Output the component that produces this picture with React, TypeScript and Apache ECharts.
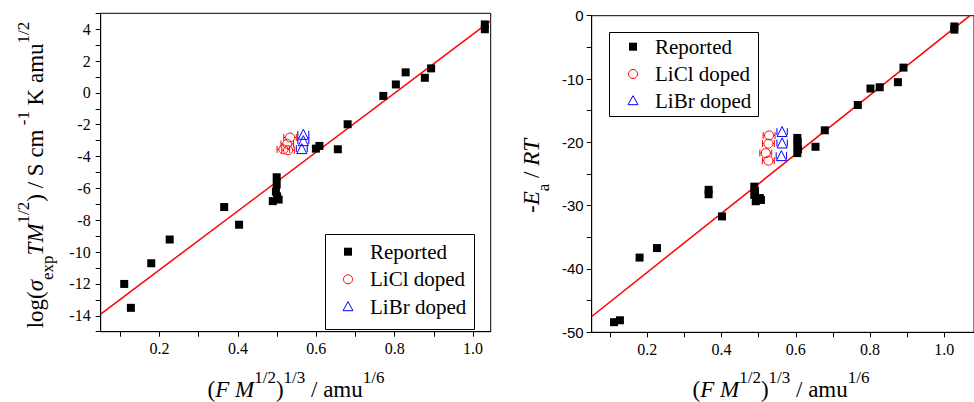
import React, { useEffect, useRef } from 'react';
import * as echarts from 'echarts';

// ---------- shared axis ticks ----------
const xTickValues = [0.1, 0.2, 0.3, 0.4, 0.5, 0.6, 0.7, 0.8, 0.9, 1.0];
const xLabelValues = [0.2, 0.4, 0.6, 0.8, 1.0];

// ---------- left chart: log(sigma T M^1/2) ----------
const leftRepX = [0.110, 0.127, 0.179, 0.226, 0.365, 0.403, 0.489, 0.499, 0.499, 0.497, 0.500, 0.504, 0.599, 0.608, 0.655, 0.680, 0.771, 0.803, 0.828, 0.877, 0.893, 1.030, 1.030];
const leftRepY = [-12.0, -13.5, -10.7, -9.21, -7.17, -8.28, -6.8, -5.3, -5.75, -6.2, -6.5, -6.7, -3.5, -3.33, -3.54, -1.97, -0.19, 0.53, 1.29, 0.95, 1.54, 4.0, 4.3];
const leftLiClX = [0.533, 0.526, 0.516, 0.528];
const leftLiClY = [-2.8, -3.2, -3.55, -3.6];
const leftLiClErr = [0.016, 0.016, 0.016, 0.016];
const leftLiBrX = [0.567, 0.567, 0.563];
const leftLiBrY = [-2.6, -3.0, -3.5];
const leftLiBrErr = [0.014, 0.014, 0.014];
const leftFitX = [0.05, 1.045];
const leftFitY = [-13.89, 4.52];

// ---------- right chart: -Ea/RT ----------
const rightRepX = [0.110, 0.126, 0.179, 0.226, 0.365, 0.365, 0.401, 0.488, 0.490, 0.488, 0.492, 0.503, 0.506, 0.604, 0.605, 0.604, 0.606, 0.604, 0.653, 0.678, 0.767, 0.801, 0.826, 0.875, 0.890, 1.027, 1.027];
const rightRepY = [-48.4, -48.1, -38.2, -36.7, -27.5, -28.2, -31.7, -27.0, -27.7, -28.3, -29.3, -28.8, -29.1, -19.3, -19.9, -20.5, -21.1, -21.7, -20.7, -18.1, -14.1, -11.5, -11.3, -10.5, -8.2, -1.7, -2.2];
const rightLiClX = [0.528, 0.526, 0.519, 0.526];
const rightLiClY = [-18.9, -20.2, -21.7, -22.9];
const rightLiClErr = [0.016, 0.016, 0.016, 0.016];
const rightLiBrX = [0.563, 0.563, 0.561];
const rightLiBrY = [-18.3, -20.1, -22.1];
const rightLiBrErr = [0.014, 0.014, 0.014];
const rightFitX = [0.05, 1.069];
const rightFitY = [-47.5, 0];

const legendNames = ['Reported', 'LiCl doped', 'LiBr doped'];

const SERIF = "'Liberation Serif', 'Times New Roman', serif";
const SANS = "'Liberation Sans', Arial, sans-serif";

function zip(xs: number[], ys: number[]) {
  return xs.map((x, i) => [x, ys[i]]);
}

function errSeries(xi: number, xs: number[], ys: number[], errs: number[], color: string, gap: number) {
  return {
    type: 'custom',
    xAxisIndex: xi,
    yAxisIndex: xi,
    silent: true,
    z: 3,
    data: xs.map((x, i) => [x, ys[i], errs[i]]),
    encode: { x: 0, y: 1 },
    renderItem: (_p: any, api: any) => {
      const x = api.value(0);
      const y = api.value(1);
      const e = api.value(2);
      const c = api.coord([x, y]);
      const l = api.coord([x - e, y]);
      const r = api.coord([x + e, y]);
      const cap = 3.5;
      const st = { stroke: color, lineWidth: 1 };
      return {
        type: 'group',
        children: [
          { type: 'line', shape: { x1: l[0], y1: c[1], x2: c[0] - gap, y2: c[1] }, style: st },
          { type: 'line', shape: { x1: c[0] + gap, y1: c[1], x2: r[0], y2: c[1] }, style: st },
          { type: 'line', shape: { x1: l[0], y1: c[1] - cap, x2: l[0], y2: c[1] + cap }, style: st },
          { type: 'line', shape: { x1: r[0], y1: c[1] - cap, x2: r[0], y2: c[1] + cap }, style: st },
        ],
      };
    },
  };
}

function xAxisCfg(gi: number, max: number) {
  return {
    type: 'value',
    gridIndex: gi,
    min: 0.05,
    max,
    axisLine: { show: true, onZero: false, lineStyle: { color: '#000', width: 1 } },
    axisTick: { show: true, inside: false, length: 5, customValues: xTickValues, lineStyle: { color: '#000' } },
    axisLabel: {
      customValues: xLabelValues,
      formatter: (v: number) => v.toFixed(1),
      color: '#000',
      fontFamily: SERIF,
      fontSize: 16,
      margin: 9,
    },
    splitLine: { show: false },
  };
}

const richBase = () => ({
  m: { fontFamily: SERIF, fontSize: 23, lineHeight: 26, fill: '#000' },
  mi: { fontFamily: SERIF, fontSize: 23, fontStyle: 'italic', lineHeight: 26, fill: '#000' },
  sup: { fontFamily: SERIF, fontSize: 17, lineHeight: 2, height: 2, verticalAlign: 'top', fill: '#000' },
  sub: { fontFamily: SERIF, fontSize: 17, lineHeight: 1, height: 1, verticalAlign: 'bottom', fill: '#000' },
});

function legendGraphics(bx: number, by: number, bw: number, bh: number, sx: number, tx: number, ys: number[]) {
  const els: any[] = [
    { type: 'rect', shape: { x: bx + 0.5, y: by + 0.5, width: bw, height: bh }, style: { fill: '#fff', stroke: '#000', lineWidth: 1 }, z: 10 },
    { type: 'rect', shape: { x: sx - 4, y: ys[0] - 4, width: 8, height: 8 }, style: { fill: '#000' }, z: 11 },
    { type: 'circle', shape: { cx: sx, cy: ys[1], r: 4.5 }, style: { fill: 'none', stroke: '#ff0000', lineWidth: 1 }, z: 11 },
    { type: 'polygon', shape: { points: [[sx, ys[2] - 5], [sx - 5, ys[2] + 4], [sx + 5, ys[2] + 4]] }, style: { fill: 'none', stroke: '#0000ff', lineWidth: 1 }, z: 11 },
  ];
  legendNames.forEach((n, i) => {
    els.push({
      type: 'text',
      x: tx,
      y: ys[i],
      z: 11,
      style: { text: n, fontFamily: SERIF, fontSize: 21, fill: '#000', align: 'left', verticalAlign: 'middle' },
    });
  });
  return els;
}

const xTitle = '{m|(}{mi|F M}{sup|1/2}{m|)}{sup|1/3}{m| / amu}{sup|1/6}';

export default function App() {
  const ref = useRef<HTMLDivElement>(null);
  useEffect(() => {
    if (!ref.current) return;
    const chart = echarts.init(ref.current, undefined, { renderer: 'svg' });
    const sq = { color: '#000', opacity: 1 };
    const option: any = {
      animation: false,
      backgroundColor: '#fff',
      grid: [
        { left: 100.7, top: 13.3, width: 390, height: 318.4, show: true, borderColor: '#000', borderWidth: 1, backgroundColor: 'transparent' },
        { left: 591.7, top: 15.7, width: 384.2, height: 316.6, show: true, borderColor: '#000', borderWidth: 1, backgroundColor: 'transparent' },
      ],
      xAxis: [xAxisCfg(0, 1.045), xAxisCfg(1, 1.08)],
      yAxis: [
        {
          type: 'value',
          gridIndex: 0,
          min: -15,
          max: 5,
          interval: 1,
          axisLine: { show: true, onZero: false, lineStyle: { color: '#000' } },
          axisTick: { show: true, inside: false, length: 5, lineStyle: { color: '#000' } },
          axisLabel: {
            formatter: (v: number) => (Math.round(v) % 2 === 0 ? String(Math.round(v)) : ''),
            color: '#000',
            fontFamily: SERIF,
            fontSize: 16,
            margin: 10,
          },
          splitLine: { show: false },
        },
        {
          type: 'value',
          gridIndex: 1,
          min: -50,
          max: 0,
          interval: 5,
          axisLine: { show: true, onZero: false, lineStyle: { color: '#000' } },
          axisTick: { show: true, inside: false, length: 5, lineStyle: { color: '#000' } },
          axisLabel: {
            formatter: (v: number) => (Math.round(v) % 10 === 0 ? String(Math.round(v)) : ''),
            color: '#000',
            fontFamily: SANS,
            fontSize: 15,
            margin: 8,
          },
          splitLine: { show: false },
        },
      ],
      series: [
        { name: 'fitL', type: 'line', xAxisIndex: 0, yAxisIndex: 0, data: zip(leftFitX, leftFitY), showSymbol: false, silent: true, lineStyle: { color: '#ff0000', width: 1.5 }, z: 2 },
        { name: legendNames[0], type: 'scatter', xAxisIndex: 0, yAxisIndex: 0, data: zip(leftRepX, leftRepY), symbol: 'rect', symbolSize: 8, itemStyle: sq, z: 4 },
        errSeries(0, leftLiClX, leftLiClY, leftLiClErr, '#ff0000', 4.5),
        { name: legendNames[1], type: 'scatter', xAxisIndex: 0, yAxisIndex: 0, data: zip(leftLiClX, leftLiClY), symbol: 'circle', symbolSize: 9, itemStyle: { color: 'rgba(0,0,0,0)', borderColor: '#ff0000', borderWidth: 1, opacity: 1 }, z: 4 },
        errSeries(0, leftLiBrX, leftLiBrY, leftLiBrErr, '#0000ff', 5),
        { name: legendNames[2], type: 'scatter', xAxisIndex: 0, yAxisIndex: 0, data: zip(leftLiBrX, leftLiBrY), symbol: 'triangle', symbolSize: 10, itemStyle: { color: 'rgba(0,0,0,0)', borderColor: '#0000ff', borderWidth: 1, opacity: 1 }, z: 4 },

        { name: 'fitR', type: 'line', xAxisIndex: 1, yAxisIndex: 1, data: zip(rightFitX, rightFitY), showSymbol: false, silent: true, lineStyle: { color: '#ff0000', width: 1.5 }, z: 2 },
        { name: legendNames[0], type: 'scatter', xAxisIndex: 1, yAxisIndex: 1, data: zip(rightRepX, rightRepY), symbol: 'rect', symbolSize: 8, itemStyle: sq, z: 4 },
        errSeries(1, rightLiClX, rightLiClY, rightLiClErr, '#ff0000', 4.5),
        { name: legendNames[1], type: 'scatter', xAxisIndex: 1, yAxisIndex: 1, data: zip(rightLiClX, rightLiClY), symbol: 'circle', symbolSize: 9, itemStyle: { color: 'rgba(0,0,0,0)', borderColor: '#ff0000', borderWidth: 1, opacity: 1 }, z: 4 },
        errSeries(1, rightLiBrX, rightLiBrY, rightLiBrErr, '#0000ff', 5),
        { name: legendNames[2], type: 'scatter', xAxisIndex: 1, yAxisIndex: 1, data: zip(rightLiBrX, rightLiBrY), symbol: 'triangle', symbolSize: 10, itemStyle: { color: 'rgba(0,0,0,0)', borderColor: '#0000ff', borderWidth: 1, opacity: 1 }, z: 4 },
      ],
      graphic: [
        // axis titles
        {
          type: 'text', x: 296, y: 389, z: 5,
          style: { text: xTitle, rich: richBase(), align: 'center', verticalAlign: 'middle', fill: '#000' },
        },
        {
          type: 'text', x: 781, y: 389, z: 5,
          style: { text: xTitle, rich: richBase(), align: 'center', verticalAlign: 'middle', fill: '#000' },
        },
        {
          type: 'text', x: 35, y: 175, rotation: Math.PI / 2, z: 5,
          style: { text: '{m|log(}{mi|σ}{sub|exp}{mi|TM}{sup|1/2}{m|) / S cm}{sup| -1}{m| K amu}{sup|1/2}', rich: richBase(), align: 'center', verticalAlign: 'middle', fill: '#000' },
        },
        {
          type: 'text', x: 531, y: 176, rotation: Math.PI / 2, z: 5,
          style: { text: '{m|-}{mi|E}{sub|a}{m| / }{mi|RT}', rich: richBase(), align: 'center', verticalAlign: 'middle', fill: '#000' },
        },
        ...legendGraphics(325, 234, 149, 95, 348, 370, [251.7, 279.3, 306.7]),
        ...legendGraphics(609, 32, 149, 84, 633, 655, [46.7, 74, 100.7]),
      ],
    };
    chart.setOption(option);
    return () => chart.dispose();
  }, []);
  return <div ref={ref} style={{ position: 'absolute', left: 0, top: 0, width: 974, height: 402 }} />;
}
